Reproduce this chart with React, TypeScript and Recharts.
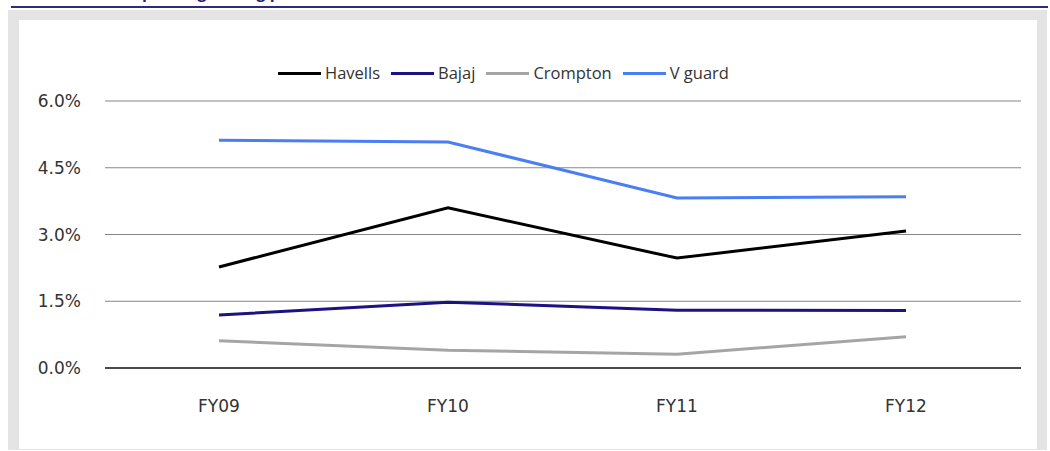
import React from 'react';
import { LineChart, Line, XAxis, YAxis, CartesianGrid, Legend } from 'recharts';

const categories = ['FY09', 'FY10', 'FY11', 'FY12'];
const havells = [2.27, 3.6, 2.47, 3.08];
const bajaj = [1.19, 1.48, 1.3, 1.29];
const crompton = [0.61, 0.4, 0.31, 0.7];
const vguard = [5.12, 5.08, 3.82, 3.85];
const yTicks = [0, 1.5, 3, 4.5, 6];
const seriesNames = ['Havells', 'Bajaj', 'Crompton', 'V guard'];
const seriesColors = ['#000000', '#1c1282', '#a5a5a5', '#4a7ef5'];
const titleText = 'Advertisement spending among peers';

const seriesValues = [havells, bajaj, crompton, vguard];
const data = categories.map((c, i) => {
  const row: Record<string, string | number> = { cat: c };
  seriesNames.forEach((n, k) => {
    row[n] = seriesValues[k][i];
  });
  return row;
});

const renderLegend = () => (
  <div
    style={{
      display: 'flex',
      alignItems: 'center',
      fontFamily: '"Open Sans", sans-serif',
      fontSize: 16.5,
      color: '#333',
      whiteSpace: 'nowrap',
      lineHeight: '22px',
    }}
  >
    {seriesNames.map((n, i) => (
      <div key={n} style={{ display: 'flex', alignItems: 'center', marginRight: 11 }}>
        <span
          style={{ display: 'inline-block', width: 43, height: 3, background: seriesColors[i], marginRight: 4 }}
        />
        <span>{n}</span>
      </div>
    ))}
  </div>
);

export default function App() {
  return (
    <div
      style={{
        position: 'absolute',
        left: 0,
        top: 0,
        width: 1050,
        height: 451,
        background: '#ffffff',
        overflow: 'hidden',
      }}
    >
      <div style={{ position: 'absolute', left: 11, top: 0, width: 1032, height: 5, overflow: 'hidden' }}>
        <div
          style={{
            position: 'absolute',
            left: 0,
            top: -16,
            fontFamily: '"Open Sans", sans-serif',
            fontWeight: 700,
            fontSize: 16,
            lineHeight: '16px',
            color: '#1f1d7d',
            whiteSpace: 'nowrap',
          }}
        >
          {titleText}
        </div>
      </div>
      <div style={{ position: 'absolute', left: 11, top: 6, width: 1037, height: 2, background: '#2e2a80' }} />
      <div style={{ position: 'absolute', left: 8, top: 10, width: 1039, height: 440, background: '#e4e4e4' }} />
      <div style={{ position: 'absolute', left: 19, top: 20, width: 1018, height: 429, background: '#ffffff' }}>
        <LineChart
          width={1018}
          height={429}
          data={data}
          margin={{ top: 81, right: 16, bottom: 0, left: 0 }}
        >
          <CartesianGrid horizontal vertical={false} stroke="#878787" strokeWidth={1} />
          <XAxis
            dataKey="cat"
            height={81}
            padding={{ left: 114, right: 115 }}
            axisLine={{ stroke: '#222', strokeWidth: 1.5 }}
            tickLine={false}
            tickSize={0}
            tickMargin={32}
            tick={{ fontFamily: 'DejaVu Sans', fontSize: 17, fill: '#333' }}
          />
          <YAxis
            width={86}
            domain={[0, 6]}
            ticks={yTicks}
            axisLine={false}
            tickLine={false}
            tickSize={0}
            tickMargin={24}
            tickFormatter={(v: number) => v.toFixed(1) + '%'}
            tick={{ fontFamily: 'DejaVu Sans', fontSize: 17, fill: '#333' }}
          />
          <Legend
            layout="horizontal"
            verticalAlign="middle"
            align="center"
            content={renderLegend}
            wrapperStyle={{ left: 259, top: 42, width: 'auto', height: 22 }}
          />
          {seriesNames.map((n, i) => (
            <Line
              key={n}
              type="linear"
              dataKey={n}
              stroke={seriesColors[i]}
              strokeWidth={3}
              dot={false}
              activeDot={false}
              isAnimationActive={false}
            />
          ))}
        </LineChart>
      </div>
    </div>
  );
}
